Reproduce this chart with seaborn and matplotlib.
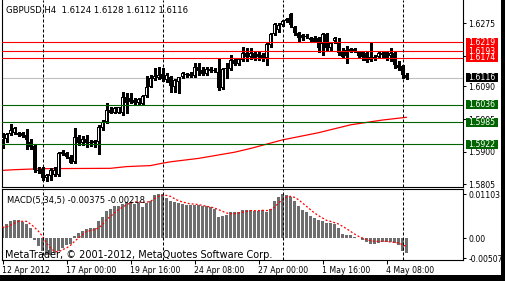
import numpy as np
import matplotlib
matplotlib.use("Agg")
import matplotlib.pyplot as plt
import matplotlib.transforms as mtransforms
from matplotlib.patches import Rectangle
import seaborn as sns

# ---------------- data ----------------
opens = [1.5934, 1.5936, 1.5951, 1.5953, 1.5955, 1.5953, 1.5948, 1.5929, 1.5916, 1.5846,
         1.5849, 1.5822, 1.5829, 1.5832, 1.5832, 1.5898, 1.5895, 1.5885, 1.5870, 1.5943,
         1.5925, 1.5937, 1.5928, 1.5925, 1.5929, 1.5968, 1.5987, 1.6021, 1.6013, 1.6013,
         1.6013, 1.6058, 1.6056, 1.6050, 1.6041, 1.6038, 1.6062, 1.6089, 1.6112, 1.6114,
         1.6126, 1.6109, 1.6119, 1.6089, 1.6104, 1.6117, 1.6126, 1.6121, 1.6122, 1.6146,
         1.6138, 1.6126, 1.6140, 1.6138, 1.6133, 1.6085, 1.6140, 1.6140, 1.6167, 1.6156,
         1.6167, 1.6189, 1.6177, 1.6187, 1.6184, 1.6182, 1.6172, 1.6211, 1.6242, 1.6255,
         1.6270, 1.6287, 1.6301, 1.6265, 1.6245, 1.6240, 1.6237, 1.6231, 1.6231, 1.6231,
         1.6213, 1.6242, 1.6202, 1.6223, 1.6221, 1.6194, 1.6197, 1.6194, 1.6199, 1.6190,
         1.6190, 1.6187, 1.6167, 1.6172, 1.6177, 1.6182, 1.6192, 1.6180, 1.6187, 1.6153,
         1.6151, 1.6124]
highs = [1.5953, 1.5953, 1.5980, 1.5973, 1.5958, 1.5958, 1.5965, 1.5936, 1.5919, 1.5856,
         1.5856, 1.5835, 1.5851, 1.5856, 1.5899, 1.5904, 1.5899, 1.5890, 1.5968, 1.5948,
         1.5945, 1.5948, 1.5934, 1.5934, 1.5978, 1.5992, 1.6041, 1.6031, 1.6031, 1.6031,
         1.6075, 1.6070, 1.6070, 1.6056, 1.6056, 1.6065, 1.6121, 1.6124, 1.6143, 1.6148,
         1.6143, 1.6128, 1.6121, 1.6111, 1.6119, 1.6133, 1.6128, 1.6133, 1.6158, 1.6159,
         1.6146, 1.6148, 1.6146, 1.6143, 1.6169, 1.6143, 1.6158, 1.6182, 1.6172, 1.6172,
         1.6206, 1.6202, 1.6202, 1.6192, 1.6192, 1.6187, 1.6216, 1.6245, 1.6274, 1.6274,
         1.6284, 1.6291, 1.6304, 1.6268, 1.6250, 1.6242, 1.6242, 1.6234, 1.6237, 1.6235,
         1.6245, 1.6245, 1.6220, 1.6235, 1.6231, 1.6203, 1.6208, 1.6202, 1.6202, 1.6192,
         1.6192, 1.6192, 1.6216, 1.6182, 1.6190, 1.6190, 1.6194, 1.6203, 1.6192, 1.6163,
         1.6153, 1.6128]
lows = [1.5909, 1.5929, 1.5948, 1.5951, 1.5946, 1.5942, 1.5906, 1.5906, 1.5841, 1.5838,
        1.5817, 1.5814, 1.5817, 1.5829, 1.5829, 1.5890, 1.5880, 1.5866, 1.5866, 1.5919,
        1.5919, 1.5914, 1.5916, 1.5912, 1.5892, 1.5963, 1.5982, 1.6012, 1.6012, 1.6012,
        1.6007, 1.6012, 1.6041, 1.6039, 1.6038, 1.6036, 1.6060, 1.6088, 1.6109, 1.6111,
        1.6107, 1.6104, 1.6075, 1.6075, 1.6072, 1.6114, 1.6119, 1.6117, 1.6119, 1.6124,
        1.6124, 1.6124, 1.6131, 1.6131, 1.6080, 1.6082, 1.6114, 1.6138, 1.6153, 1.6153,
        1.6165, 1.6163, 1.6169, 1.6167, 1.6167, 1.6163, 1.6153, 1.6206, 1.6240, 1.6250,
        1.6268, 1.6277, 1.6265, 1.6240, 1.6223, 1.6226, 1.6231, 1.6223, 1.6220, 1.6192,
        1.6182, 1.6197, 1.6197, 1.6216, 1.6182, 1.6172, 1.6158, 1.6192, 1.6190, 1.6177,
        1.6167, 1.6161, 1.6163, 1.6167, 1.6172, 1.6177, 1.6167, 1.6163, 1.6143, 1.6138,
        1.6114, 1.6112]
closes = [1.5943, 1.5951, 1.5963, 1.5968, 1.5949, 1.5945, 1.5934, 1.5914, 1.5846, 1.5843,
          1.5822, 1.5832, 1.5846, 1.5846, 1.5895, 1.5893, 1.5883, 1.5867, 1.5943, 1.5925,
          1.5936, 1.5925, 1.5925, 1.5931, 1.5973, 1.5987, 1.6021, 1.6013, 1.6026, 1.6029,
          1.6058, 1.6041, 1.6046, 1.6043, 1.6053, 1.6062, 1.6089, 1.6114, 1.6122, 1.6124,
          1.6111, 1.6124, 1.6091, 1.6109, 1.6117, 1.6128, 1.6123, 1.6126, 1.6146, 1.6136,
          1.6126, 1.6140, 1.6135, 1.6135, 1.6085, 1.6140, 1.6143, 1.6167, 1.6156, 1.6169,
          1.6187, 1.6177, 1.6189, 1.6172, 1.6177, 1.6172, 1.6213, 1.6242, 1.6272, 1.6270,
          1.6281, 1.6281, 1.6270, 1.6245, 1.6231, 1.6231, 1.6235, 1.6226, 1.6221, 1.6202,
          1.6242, 1.6202, 1.6216, 1.6233, 1.6187, 1.6177, 1.6179, 1.6199, 1.6194, 1.6180,
          1.6177, 1.6164, 1.6177, 1.6177, 1.6187, 1.6187, 1.6172, 1.6187, 1.6153, 1.6143,
          1.6124, 1.6116]

macd_hist = [0.00268, 0.00351, 0.00418, 0.00443, 0.00443, 0.00401, 0.00351, 0.00251, -0.00042, -0.00209,
             -0.00334, -0.00418, -0.00418, -0.00376, -0.00318, -0.00251, -0.00167, -0.00150, 0.00059, 0.00125,
             0.00184, 0.00234, 0.00251, 0.00251, 0.00418, 0.00518, 0.00669, 0.00736, 0.00794, 0.00794,
             0.00853, 0.00903, 0.00903, 0.00853, 0.00878, 0.00786, 0.00878, 0.00936, 0.01087, 0.01103,
             0.01103, 0.01003, 0.00920, 0.00903, 0.00878, 0.00853, 0.00836, 0.00836, 0.00836, 0.00819,
             0.00794, 0.00794, 0.00769, 0.00736, 0.00518, 0.00543, 0.00585, 0.00652, 0.00652, 0.00652,
             0.00711, 0.00711, 0.00711, 0.00686, 0.00686, 0.00711, 0.00652, 0.00736, 0.00920, 0.01020,
             0.01103, 0.01087, 0.01020, 0.00920, 0.00794, 0.00711, 0.00652, 0.00543, 0.00502, 0.00460,
             0.00418, 0.00376, 0.00376, 0.00359, 0.00251, 0.00100, 0.00084, 0.00067, 0.00017, 0.00002,
             -0.00042, -0.00109, -0.00150, -0.00150, -0.00125, -0.00109, -0.00109, -0.00100, -0.00125, -0.00184,
             -0.00334, -0.00375]
macd_signal = [0.00268, 0.00276, 0.00318, 0.00376, 0.00418, 0.00418, 0.00418, 0.00351, 0.00268, 0.00167,
               0.00042, -0.00125, -0.00251, -0.00334, -0.00351, -0.00293, -0.00251, -0.00184, -0.00084, 0.00000,
               0.00084, 0.00167, 0.00184, 0.00209, 0.00251, 0.00334, 0.00460, 0.00543, 0.00627, 0.00711,
               0.00769, 0.00836, 0.00878, 0.00903, 0.00903, 0.00895, 0.00895, 0.00920, 0.00986, 0.01045,
               0.01070, 0.01070, 0.01045, 0.00986, 0.00936, 0.00903, 0.00878, 0.00853, 0.00853, 0.00836,
               0.00819, 0.00794, 0.00777, 0.00752, 0.00711, 0.00669, 0.00627, 0.00610, 0.00610, 0.00627,
               0.00644, 0.00669, 0.00686, 0.00686, 0.00686, 0.00694, 0.00686, 0.00711, 0.00769, 0.00878,
               0.00961, 0.01028, 0.01045, 0.01020, 0.00961, 0.00878, 0.00794, 0.00711, 0.00627, 0.00560,
               0.00502, 0.00443, 0.00418, 0.00385, 0.00351, 0.00293, 0.00234, 0.00167, 0.00100, 0.00042,
               0.00000, -0.00042, -0.00067, -0.00084, -0.00084, -0.00084, -0.00084, -0.00100, -0.00109, -0.00125,
               -0.00167, -0.00218]

ma_index = [0, 3, 10, 27, 31, 37, 40, 42, 49, 58, 62, 70, 79, 87, 95, 101]
ma_value = [1.5845, 1.5847, 1.5850, 1.5851, 1.5856, 1.5859, 1.5866, 1.5870, 1.5880, 1.5898,
            1.5909, 1.5934, 1.5955, 1.5978, 1.5992, 1.6000]

red_levels = [1.6174, 1.6193, 1.6219]
green_levels = [1.6036, 1.5985, 1.5922]
bid_level = 1.6116

price_ticks = [1.6275, 1.6180, 1.6090, 1.5995, 1.5900, 1.5805]
macd_ticks = [0.01103, 0.0, -0.00507]
macd_tick_labels = ["0.01103", "0.00", "-0.00507"]
time_tick_index = [0, 16, 32, 48, 64, 80, 96]
time_tick_labels = ["12 Apr 2012", "17 Apr 00:00", "19 Apr 16:00", "24 Apr 08:00",
                    "27 Apr 00:00", "1 May 16:00", "4 May 08:00"]
separator_index = [10, 40, 70, 100]

title_text = "GBPUSD,H4  1.6124 1.6128 1.6112 1.6116"
macd_title = "MACD(5,34,5) -0.00375 -0.00218"
copyright_text = "MetaTrader, \u00a9 2001-2012, MetaQuotes Software Corp."

# ---------------- style ----------------
sns.set_style("white")
plt.rcParams["font.family"] = ["DejaVu Sans"]

W, H = 505, 281
PX = 0.000292  # price per pixel on the main panel
fig = plt.figure(figsize=(W / 100, H / 100), dpi=100)
fig.patch.set_facecolor("white")

ax = fig.add_axes([2 / W, 1 - 187 / H, 461 / W, 187 / H])
ax2 = fig.add_axes([2 / W, 1 - 260 / H, 461 / W, 71 / H])

n = len(opens)
idx = np.arange(n)
o = np.array(opens); h = np.array(highs); l = np.array(lows); c = np.array(closes)

# levels
for lv in red_levels:
    ax.axhline(lv, color="#ff0000", lw=0.8, zorder=4)
for lv in green_levels:
    ax.axhline(lv, color="#006400", lw=0.8, zorder=4)
ax.axhline(bid_level, color="#c0c0c0", lw=0.8, zorder=1)

# moving average
sns.lineplot(x=ma_index, y=ma_value, ax=ax, color="#ff0000", lw=0.9, zorder=2)

# candles: wick, black outer body, white inner for rising candles
wicks = ax.vlines(idx, l, h, color="black", lw=0.75, zorder=2)
wicks.set_antialiased(False)
body_bottom = np.minimum(o, c)
body_h = np.maximum(np.abs(c - o), PX * 0.9)
outer = ax.bar(idx, body_h, bottom=body_bottom, width=0.75, color="black",
               linewidth=0, zorder=3)
for p in outer:
    p.set_antialiased(False)
up = (c > o) & ((c - o) > 2.2 * PX)
inner = ax.bar(idx[up], (c - o)[up] - 2 * PX, bottom=o[up] + PX, width=0.25,
               color="white", linewidth=0, zorder=3.5)
for p in inner:
    p.set_antialiased(False)

# MACD panel
sns.barplot(x=idx, y=macd_hist, ax=ax2, native_scale=True, width=0.75,
            color="#6e6e6e", saturation=1, errorbar=None, zorder=2)
for p in ax2.patches:
    p.set_antialiased(False)
    p.set_linewidth(0)
sns.lineplot(x=idx, y=macd_signal, ax=ax2, color="#ff0000", lw=0.9,
             linestyle=(0, (1.6, 1.6)), zorder=3)

# separators
for a in (ax, ax2):
    for s in separator_index:
        a.axvline(s, color="black", lw=0.75, ls=(0, (2.9, 1.9)), zorder=5)

# limits
xlim = (-0.125, 115.125)
ax.set_xlim(*xlim); ax2.set_xlim(*xlim)
ax.set_ylim(1.63425 - 187 * PX, 1.63425)
ax2.set_ylim(-22 * 0.0002508, 49 * 0.0002508)

for a in (ax, ax2):
    a.set_xlabel(""); a.set_ylabel("")
    for sp in a.spines.values():
        sp.set_color("black"); sp.set_linewidth(0.8)
ax.spines["top"].set_visible(False)

ax.yaxis.tick_right()
ax.set_yticks(price_ticks)
ax.set_yticklabels([f"{p:.4f}" for p in price_ticks])
ax.tick_params(axis="y", right=True, left=False, direction="out", length=2.5, width=0.75,
               pad=1.5, labelsize=5.6, colors="black")
ax.tick_params(axis="x", bottom=False, labelbottom=False)

ax2.yaxis.tick_right()
ax2.set_yticks(macd_ticks)
ax2.set_yticklabels(macd_tick_labels)
ax2.tick_params(axis="y", right=True, left=False, direction="out", length=2.5, width=0.75,
                pad=1.5, labelsize=5.6, colors="black")
ax2.set_xticks(time_tick_index)
ax2.set_xticklabels(time_tick_labels)
ax2.tick_params(axis="x", bottom=True, direction="out", length=3, width=0.75, pad=1.2,
                labelsize=5.6, colors="black")
for lbl in ax2.get_xticklabels():
    lbl.set_horizontalalignment("left")

# price boxes on the right scale
trans = mtransforms.blended_transform_factory(ax.transAxes, ax.transData)
bx0 = (466 - 2) / 461
bw = 32 / 461
bh = 9 * PX


def price_box(level, color):
    ax.add_patch(Rectangle((bx0, level - bh / 2), bw, bh, transform=trans, clip_on=False,
                           facecolor=color, edgecolor="none", zorder=10))
    ax.text(bx0 + 2.5 / 461, level, f"{level:.4f}", transform=trans, va="center", ha="left",
            color="white", fontsize=5.6, clip_on=False, zorder=11)


for lv in red_levels:
    price_box(lv, "#ff0000")
price_box(bid_level, "black")
for lv in green_levels:
    price_box(lv, "#006400")

# texts
fig.text(6 / W, 1 - 11 / H, title_text, fontsize=6.1, va="center", ha="left", color="black")
fig.text(7 / W, 1 - 201 / H, macd_title, fontsize=6.0, va="center", ha="left", color="black")
fig.text(5 / W, 1 - 255.5 / H, copyright_text, fontsize=7.0, va="center", ha="left", color="black")

# window frame (right / bottom)
fig.patches.append(Rectangle((0, 0), 1, 6 / H, transform=fig.transFigure,
                             facecolor="black", edgecolor="none", zorder=20))
fig.patches.append(Rectangle((501 / W, 0), 4 / W, 1, transform=fig.transFigure,
                             facecolor="black", edgecolor="none", zorder=20))

fig.savefig("out.png", dpi=100, facecolor="white")
